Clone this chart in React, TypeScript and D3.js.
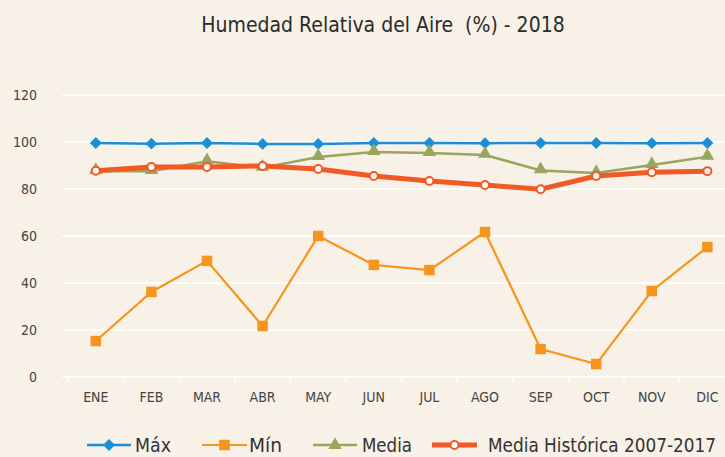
import React, { useEffect, useRef } from 'react';
import * as d3 from 'd3';

const months = ['ENE', 'FEB', 'MAR', 'ABR', 'MAY', 'JUN', 'JUL', 'AGO', 'SEP', 'OCT', 'NOV', 'DIC'];
const maxValues = [99.6, 99.3, 99.6, 99.2, 99.2, 99.6, 99.6, 99.5, 99.6, 99.6, 99.5, 99.6];
const minValues = [15.3, 36.2, 49.4, 21.7, 60.0, 47.7, 45.5, 61.7, 11.9, 5.5, 36.6, 55.3];
const mediaValues = [87.6, 87.6, 91.8, 89.0, 93.6, 95.7, 95.3, 94.5, 87.9, 86.8, 90.2, 93.7];
const historicaValues = [87.8, 89.4, 89.4, 89.8, 88.5, 85.5, 83.4, 81.7, 79.9, 85.5, 87.1, 87.6];
const yTicks = [0, 20, 40, 60, 80, 100, 120];
const seriesNames = ['Máx', 'Mín', 'Media', 'Media Histórica 2007-2017'];

const FONT = "'Liberation Sans Narrow', 'DejaVu Sans Condensed', 'Roboto', sans-serif";

const App = () => {
    const ref = useRef<HTMLDivElement>(null);

    useEffect(() => {
        const root = d3.select(ref.current);
        root.selectAll('*').remove();
        const W = 725, H = 457;
        const svg = root.append('svg').attr('width', W).attr('height', H).style('display', 'block');

        svg.append('rect').attr('width', W).attr('height', H).attr('fill', '#f8f1e7');

        const x = d3.scaleBand().domain(months).range([68, 68 + 12 * 55.6]);
        const y = d3.scaleLinear().domain([0, 120]).range([377, 95]);
        const cx = (d: string) => (x(d) as number) + x.bandwidth() / 2;

        svg.append('text')
            .attr('x', 383).attr('y', 32)
            .attr('text-anchor', 'middle')
            .style('white-space', 'pre')
            .style('font-family', FONT).style('font-size', '21px').style('fill', '#2b2b2b')
            .text('Humedad Relativa del Aire  (%) - 2018');

        // grid
        svg.append('g').selectAll('line').data(yTicks).enter().append('line')
            .attr('x1', 62).attr('x2', W)
            .attr('y1', d => y(d)).attr('y2', d => y(d))
            .attr('stroke', '#ffffff').attr('stroke-width', 1.3);

        svg.append('g').selectAll('text').data(yTicks).enter().append('text')
            .attr('x', 37).attr('y', d => y(d) + 5)
            .attr('text-anchor', 'end')
            .style('font-family', FONT).style('font-size', '14px').style('fill', '#444')
            .text(d => d);

        // x ticks
        const bounds = months.map(m => x(m) as number);
        svg.append('g').selectAll('line').data(bounds).enter().append('line')
            .attr('x1', d => d).attr('x2', d => d)
            .attr('y1', y(0)).attr('y2', y(0) + 5)
            .attr('stroke', '#ffffff').attr('stroke-width', 1.3);

        svg.append('g').selectAll('text').data(months).enter().append('text')
            .attr('x', d => cx(d)).attr('y', 402)
            .attr('text-anchor', 'middle')
            .style('font-family', FONT).style('font-size', '14px').style('fill', '#444')
            .text(d => d);

        const line = d3.line<number>().x((d, i) => cx(months[i])).y(d => y(d));

        const diamond = d3.symbol().type(d3.symbolDiamond2).size(90);
        const square = d3.symbol().type(d3.symbolSquare).size(110);
        const triangle = d3.symbol().type(d3.symbolTriangle).size(80);

        // Máx
        svg.append('path').attr('d', line(maxValues)).attr('fill', 'none')
            .attr('stroke', '#1a8fd6').attr('stroke-width', 2.5);
        svg.append('g').selectAll('path').data(maxValues).enter().append('path')
            .attr('d', diamond)
            .attr('transform', (d, i) => `translate(${cx(months[i])},${y(d)})`)
            .attr('fill', '#1a8fd6');

        // Mín
        svg.append('path').attr('d', line(minValues)).attr('fill', 'none')
            .attr('stroke', '#f7941d').attr('stroke-width', 2.2);
        svg.append('g').selectAll('path').data(minValues).enter().append('path')
            .attr('d', square)
            .attr('transform', (d, i) => `translate(${cx(months[i])},${y(d)})`)
            .attr('fill', '#f7941d');

        // Media
        svg.append('path').attr('d', line(mediaValues)).attr('fill', 'none')
            .attr('stroke', '#9aa65f').attr('stroke-width', 2.5);
        svg.append('g').selectAll('path').data(mediaValues).enter().append('path')
            .attr('d', triangle)
            .attr('transform', (d, i) => `translate(${cx(months[i])},${y(d) - 1})`)
            .attr('fill', '#9aa65f');

        // Media Histórica
        svg.append('path').attr('d', line(historicaValues)).attr('fill', 'none')
            .attr('stroke', '#f15a24').attr('stroke-width', 5);
        svg.append('g').selectAll('circle').data(historicaValues).enter().append('circle')
            .attr('cx', (d, i) => cx(months[i])).attr('cy', d => y(d)).attr('r', 4)
            .attr('fill', '#ffffff').attr('stroke', '#f15a24').attr('stroke-width', 2);

        // legend
        const ly = 445;
        const legend = [
            { x0: 87, x1: 131, tx: 135, tw: 36, color: '#1a8fd6', w: 2.5, mark: 'diamond' },
            { x0: 202, x1: 247, tx: 249, tw: 33, color: '#f7941d', w: 2.2, mark: 'square' },
            { x0: 313, x1: 357, tx: 362, tw: 50, color: '#9aa65f', w: 2.5, mark: 'triangle' },
            { x0: 432, x1: 477, tx: 488, tw: 228, color: '#f15a24', w: 5, mark: 'circle' },
        ];
        legend.forEach((l, i) => {
            const g = svg.append('g');
            g.append('line').attr('x1', l.x0).attr('x2', l.x1).attr('y1', ly).attr('y2', ly)
                .attr('stroke', l.color).attr('stroke-width', l.w);
            const mx = (l.x0 + l.x1) / 2;
            if (l.mark === 'circle') {
                g.append('circle').attr('cx', mx).attr('cy', ly).attr('r', 4)
                    .attr('fill', '#fff').attr('stroke', l.color).attr('stroke-width', 2);
            } else {
                const sym = l.mark === 'diamond' ? diamond : l.mark === 'square' ? square : triangle;
                g.append('path').attr('d', sym).attr('transform', `translate(${mx},${ly})`).attr('fill', l.color);
            }
            g.append('text').attr('x', l.tx).attr('y', ly + 7)
                .attr('textLength', l.tw).attr('lengthAdjust', 'spacingAndGlyphs')
                .style('font-family', FONT).style('font-size', '19px').style('fill', '#333')
                .text(seriesNames[i]);
        });
    }, []);

    return <div ref={ref} style={{ position: 'absolute', left: 0, top: 0 }}></div>;
};

export default App;
